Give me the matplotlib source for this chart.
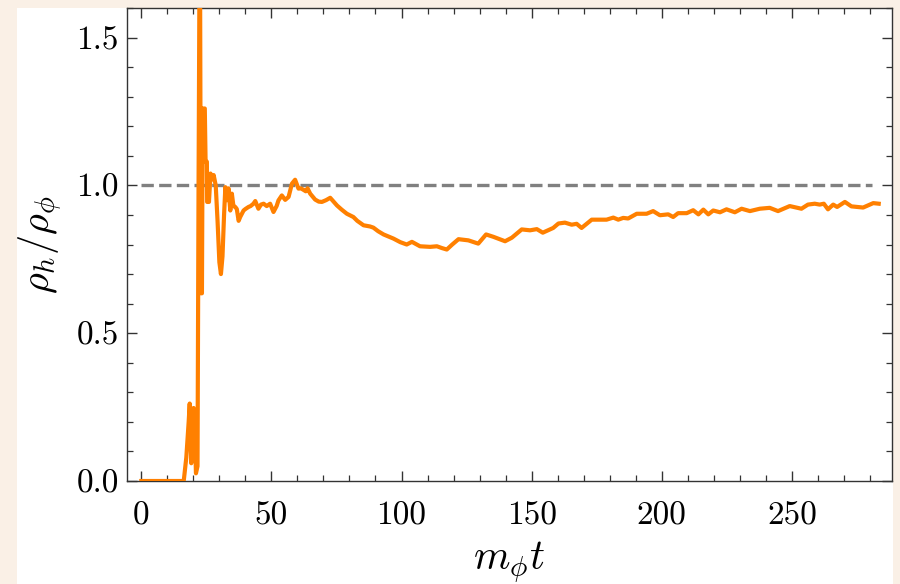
import matplotlib
matplotlib.use("Agg")
import matplotlib.pyplot as plt
from matplotlib.patches import Rectangle
from matplotlib.ticker import MultipleLocator

# ---- data ----
t = [0, 16.3, 17.3, 18.2, 18.6, 19.2, 20.1, 20.5, 21.0, 21.6, 22.0, 22.5, 22.9, 23.3,
     23.6, 24.4, 24.7, 25.2, 25.3, 26.0, 26.6, 27.2, 27.8, 28.6, 29.3, 30.0, 30.6, 31.2,
     31.8, 32.3, 33.0, 33.5, 34.2, 34.8, 35.4, 36.1, 36.7, 37.4, 38.0, 39.3, 40.0, 41.2,
     42.0, 43.1, 43.8, 45.0, 46.0, 47.0, 48.2, 49.5, 50.8, 52.0, 52.7, 54.0, 55.3, 56.6,
     57.9, 59.1, 60.4, 61.3, 62.3, 63.2, 63.9, 64.9, 66.8, 68.2, 69.4, 71.0, 72.6, 75.2,
     77.0, 79.0, 81.5, 83.0, 85.4, 87.9, 89.2, 91.0, 93.1, 96.9, 99.5, 102.0, 104.0,
     107.1, 111.0, 113.6, 115.5, 117.4, 119.5, 121.9, 125.7, 129.5, 132.5, 135.3, 139.8,
     142.4, 146.2, 149.4, 152.0, 154.3, 158.3, 160.3, 162.8, 165.4, 167.3, 169.2, 173.1,
     178.8, 181.4, 183.3, 185.2, 187.1, 190.4, 194.2, 196.7, 199.3, 202.5, 204.4, 206.3,
     209.6, 212.1, 214.1, 216.0, 217.9, 219.8, 222.4, 224.9, 228.1, 230.7, 233.9, 237.7,
     241.5, 244.7, 249.2, 253.7, 256.2, 258.8, 260.7, 262.3, 263.9, 265.9, 267.4, 270.4,
     272.9, 277.4, 281.3, 283.4]
ratio = [0.0, 0.0, 0.08, 0.20, 0.262, 0.06, 0.247, 0.20, 0.026, 0.05, 1.0, 2.0, 0.635, 0.635,
         1.26, 1.26, 1.08, 1.08, 0.944, 0.944, 1.04, 1.02, 1.035, 1.0, 0.88, 0.74, 0.70, 0.76,
         0.90, 0.994, 0.95, 0.99, 0.915, 0.972, 0.93, 0.927, 0.92, 0.88, 0.893, 0.915, 0.92, 0.927,
         0.93, 0.938, 0.947, 0.921, 0.935, 0.938, 0.93, 0.938, 0.91, 0.93, 0.949, 0.966, 0.951, 0.961,
         1.006, 1.019, 0.989, 0.99, 0.985, 0.98, 0.99, 0.972, 0.952, 0.945, 0.944, 0.95, 0.958, 0.932,
         0.918, 0.904, 0.893, 0.88, 0.865, 0.861, 0.857, 0.845, 0.834, 0.820, 0.808, 0.800, 0.809,
         0.794, 0.792, 0.794, 0.788, 0.783, 0.80, 0.818, 0.814, 0.803, 0.834, 0.826, 0.811,
         0.823, 0.851, 0.848, 0.852, 0.840, 0.856, 0.871, 0.874, 0.867, 0.870, 0.856, 0.884,
         0.884, 0.891, 0.884, 0.89, 0.888, 0.904, 0.904, 0.913, 0.899, 0.902, 0.893, 0.906,
         0.906, 0.916, 0.902, 0.918, 0.902, 0.915, 0.909, 0.919, 0.909, 0.921, 0.913, 0.921,
         0.924, 0.913, 0.930, 0.921, 0.935, 0.938, 0.935, 0.938, 0.919, 0.935, 0.927, 0.944,
         0.929, 0.925, 0.940, 0.938]
ref_level = 1.0
ref_start, ref_end = 0.0, 281.0
xticks = [0, 50, 100, 150, 200, 250]
xtick_labels = ["0", "50", "100", "150", "200", "250"]
yticks = [0.0, 0.5, 1.0, 1.5]
ytick_labels = ["0.0", "0.5", "1.0", "1.5"]
xlabel = r"$m_\phi t$"
ylabel = r"$\rho_h/\rho_\phi$"

plt.rcParams["font.family"] = ["cmr10", "DejaVu Serif"]
plt.rcParams["mathtext.fontset"] = "cm"

fig = plt.figure(figsize=(9, 5.84), dpi=100, facecolor="#faf0e6")
bg = Rectangle((17 / 900, 0), (893 - 17) / 900, (584 - 8) / 584,
               transform=fig.transFigure, facecolor="white", edgecolor="none", zorder=-10)
fig.add_artist(bg)
ax = fig.add_axes([127 / 900, (584 - 481) / 584, (892 - 127) / 900, (481 - 8) / 584])
ax.set_zorder(5)
ax.set_facecolor("white")

ax.hlines(ref_level, ref_start, ref_end, colors="#808080", linestyles="--", linewidth=2.4, zorder=2)
ax.plot(t, ratio, color="#ff8000", linewidth=3.0, zorder=3)

ax.set_xlim(-5.5, 288.5)
ax.set_ylim(0, 1.6)
ax.set_xticks(xticks)
ax.set_xticklabels(xtick_labels)
ax.set_yticks(yticks)
ax.set_yticklabels(ytick_labels)
ax.xaxis.set_minor_locator(MultipleLocator(10))
ax.yaxis.set_minor_locator(MultipleLocator(0.1))
ax.tick_params(which="both", direction="in", top=True, right=True, colors="#333333",
               labelcolor="black", labelsize=24)
ax.tick_params(which="major", length=7, width=1.0)
ax.tick_params(which="minor", length=4, width=0.9)
ax.tick_params(axis="x", which="major", pad=15)
ax.tick_params(axis="y", which="major", pad=6)
for s in ax.spines.values():
    s.set_color("#333333")
    s.set_linewidth(1.0)

ax.set_xlabel(xlabel, fontsize=30, labelpad=6)
ax.set_ylabel(ylabel, fontsize=29, labelpad=8)

fig.savefig("out.png", dpi=100, facecolor=fig.get_facecolor())
